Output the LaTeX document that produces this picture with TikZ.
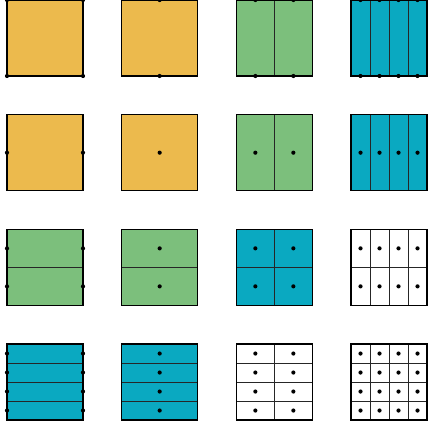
\documentclass[tikz,border=0pt]{standalone}
\usepackage{tikz}
\definecolor{tileone}{HTML}{ECBA4D}
\definecolor{tiletwo}{HTML}{7CBF7C}
\definecolor{tilefour}{HTML}{0AA9C1}
\definecolor{tilemany}{HTML}{FFFFFF}
\def\pitch{3.018}

\begin{document}
\begin{tikzpicture}[
  outline/.style={draw=black, line width=1.1pt},
  cellline/.style={draw=black!85, line width=0.6pt},
  dotmark/.style={fill=black},
]
\useasboundingbox (-0.184,-11.263) rectangle (11.08,0);
% tiles: row/col/columns/rows/colour
\foreach \r/\c/\nx/\ny/\col in {
  0/0/1/1/tileone, 0/1/1/1/tileone, 0/2/2/1/tiletwo, 0/3/4/1/tilefour,
  1/0/1/1/tileone, 1/1/1/1/tileone, 1/2/2/1/tiletwo, 1/3/4/1/tilefour,
  2/0/1/2/tiletwo, 2/1/1/2/tiletwo, 2/2/2/2/tilefour, 2/3/4/2/tilemany,
  3/0/1/4/tilefour, 3/1/1/4/tilefour, 3/2/2/4/tilemany, 3/3/4/4/tilemany}
{
  \begin{scope}[shift={(\c*\pitch,-\r*\pitch-2)}]
    \pgfmathsetmacro\dx{2/\nx}
    \pgfmathsetmacro\dy{2/\ny}
    \fill[\col] (0,0) rectangle (2,2);
    \draw[cellline, xstep=\dx, ystep=\dy] (0,0) grid (2,2);
    \draw[outline] (0,0) rectangle (2,2);
  \end{scope}
}
% corner dots
\foreach \xx in {0,2} \foreach \yy in {0,2}
  \fill[dotmark] (\xx,\yy-2) circle (0.055);
% top and bottom dots
\foreach \c/\nx in {1/1, 2/2, 3/4}
  \foreach \i in {1,...,\nx} \foreach \yy in {0,2}
    \fill[dotmark] ({\c*\pitch+(\i-0.5)*2/\nx},\yy-2) circle (0.055);
% left and right dots
\foreach \r/\ny in {1/1, 2/2, 3/4}
  \foreach \j in {1,...,\ny} \foreach \xx in {0,2}
    \fill[dotmark] (\xx,{-\r*\pitch-2+(\j-0.5)*2/\ny}) circle (0.055);
% centre dots
\foreach \r/\c/\nx/\ny in {1/1/1/1, 1/2/2/1, 1/3/4/1, 2/1/1/2, 2/2/2/2, 2/3/4/2,
                          3/1/1/4, 3/2/2/4, 3/3/4/4}
  \foreach \i in {1,...,\nx} \foreach \j in {1,...,\ny}
    \fill[dotmark] ({\c*\pitch+(\i-0.5)*2/\nx},{-\r*\pitch-2+(\j-0.5)*2/\ny}) circle (0.055);
\end{tikzpicture}
\end{document}
